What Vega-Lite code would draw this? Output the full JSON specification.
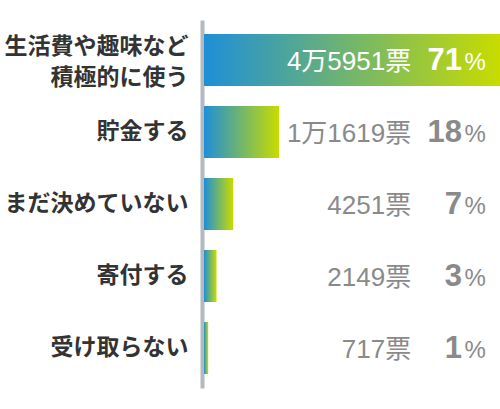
{
  "$schema": "https://vega.github.io/schema/vega-lite/v6.json",
  "width": 296,
  "height": 368,
  "autosize": "none",
  "padding": {"left": 204, "top": 20, "right": 0, "bottom": 21},
  "background": "white",
  "config": {
    "view": {"stroke": null},
    "font": "Liberation Sans, Noto Sans CJK JP"
  },
  "data": {
    "values": [
      {"label": "生活費や趣味など|積極的に使う", "pct": 71, "votes": "4万5951票"},
      {"label": "貯金する", "pct": 18, "votes": "1万1619票"},
      {"label": "まだ決めていない", "pct": 7, "votes": "4251票"},
      {"label": "寄付する", "pct": 3, "votes": "2149票"},
      {"label": "受け取らない", "pct": 1, "votes": "717票"}
    ]
  },
  "encoding": {
    "y": {
      "field": "label",
      "type": "nominal",
      "sort": null,
      "title": null,
      "scale": {"paddingInner": 0.278, "paddingOuter": 0.194},
      "axis": {
        "offset": 2,
        "domainWidth": 4,
        "domainColor": "#b2babf",
        "ticks": false,
        "labelPadding": 14,
        "labelLimit": 240,
        "labelFont": "Noto Sans CJK JP",
        "labelFontSize": 23,
        "labelFontWeight": "bold",
        "labelColor": "#333333",
        "labelLineHeight": 31,
        "labelOffset": {"condition": {"test": "indexof(datum.value, '|') >= 0", "value": -13}, "value": 0},
        "labelExpr": "split(datum.value, '|')"
      }
    }
  },
  "layer": [
    {
      "mark": {
        "type": "bar",
        "color": {
          "gradient": "linear",
          "x1": 0, "y1": 0, "x2": 1, "y2": 0,
          "stops": [
            {"offset": 0, "color": "#1e8fd8"},
            {"offset": 1, "color": "#c8dc00"}
          ]
        }
      },
      "encoding": {
        "x": {
          "field": "pct",
          "type": "quantitative",
          "scale": {"domain": [0, 71], "nice": false},
          "axis": null
        }
      }
    },
    {
      "mark": {"type": "text", "align": "right", "baseline": "middle", "fontSize": 26, "dy": 2},
      "encoding": {
        "x": {"datum": 49.7, "type": "quantitative"},
        "text": {"field": "votes"},
        "color": {
          "condition": {"test": "datum.pct > 50", "value": "white"},
          "value": "#8a8a8a"
        }
      }
    },
    {
      "mark": {"type": "text", "align": "right", "baseline": "middle", "fontSize": 31, "fontWeight": "bold", "dy": 1},
      "encoding": {
        "x": {"datum": 61.9, "type": "quantitative"},
        "text": {"field": "pct"},
        "color": {
          "condition": {"test": "datum.pct > 50", "value": "white"},
          "value": "#8a8a8a"
        }
      }
    },
    {
      "mark": {"type": "text", "align": "left", "baseline": "middle", "fontSize": 24, "dy": 3},
      "encoding": {
        "x": {"datum": 62.5, "type": "quantitative"},
        "text": {"value": "%"},
        "color": {
          "condition": {"test": "datum.pct > 50", "value": "white"},
          "value": "#8a8a8a"
        }
      }
    }
  ]
}
